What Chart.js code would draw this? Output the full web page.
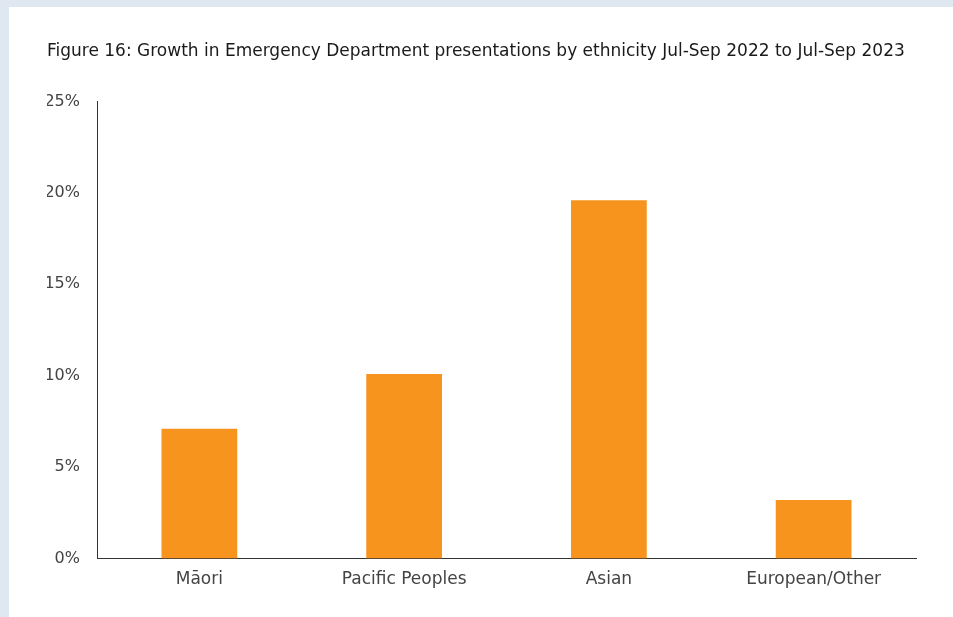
<!DOCTYPE html>
<html>
<head>
<meta charset="utf-8">
<script src="https://cdn.jsdelivr.net/npm/chart.js@4"></script>
<style>
  html, body { margin: 0; padding: 0; background: #dfe7f0; }
  #card { position: absolute; left: 9px; top: 7px; width: 944px; height: 610px; background: #fff; }
  canvas { display: block; }
</style>
</head>
<body>
<div id="card"><canvas id="chart" width="944" height="610"></canvas></div>
<script>
const ethnicities = ['Māori', 'Pacific Peoples', 'Asian', 'European/Other']
const growth = [7.1, 10.1, 19.6, 3.2]

const fontFamily = '"DejaVu Sans", "Noto Sans", sans-serif'

new Chart(document.getElementById('chart'), {
    type: 'bar',
    data: {
        labels: ethnicities,
        datasets: [{
            data: growth,
            backgroundColor: '#f7941e',
            barPercentage: 0.74,
            categoryPercentage: 0.5
        }]
    },
    options: {
        responsive: false,
        animation: false,
        layout: { padding: { left: 38, right: 37, top: 34, bottom: 16 } },
        plugins: {
            legend: { display: false },
            tooltip: { enabled: false },
            title: {
                display: true,
                align: 'start',
                text: 'Figure 16: Growth in Emergency Department presentations by ethnicity Jul-Sep 2022 to Jul-Sep 2023',
                color: '#1a1a1a',
                font: { family: fontFamily, size: 17, weight: '500' },
                padding: { top: 0, bottom: 40 }
            }
        },
        scales: {
            x: {
                grid: { display: false, drawTicks: false },
                border: { display: true, color: '#333', width: 1 },
                ticks: { color: '#444', padding: 11, font: { family: fontFamily, size: 17 } }
            },
            y: {
                min: 0,
                max: 25,
                afterFit: (scale) => { scale.width = 50 },
                grid: { display: false, drawTicks: false },
                border: { display: true, color: '#333', width: 1 },
                ticks: {
                    stepSize: 5,
                    color: '#444',
                    padding: 17,
                    font: { family: fontFamily, size: 16 },
                    callback: (v) => v + '%'
                }
            }
        }
    }
})
</script>
</body>
</html>
